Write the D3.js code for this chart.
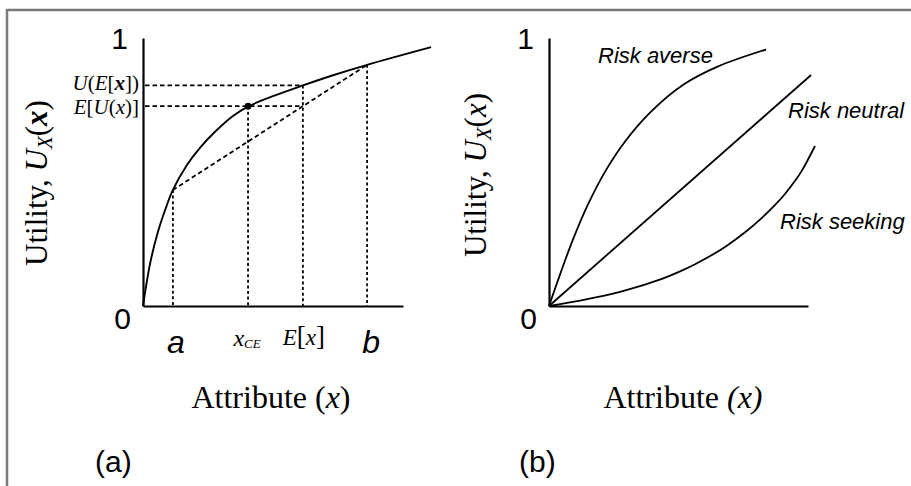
<!DOCTYPE html>
<html>
<head>
<meta charset="utf-8">
<script src="https://cdn.jsdelivr.net/npm/d3@7/dist/d3.min.js"></script>
<style>
  html, body { margin: 0; padding: 0; background: #fff; }
  svg { display: block; }
</style>
</head>
<body>
<svg id="fig" width="911" height="486"></svg>
<script>
// ---- Panel (a): concave utility curve with lottery construction ----
const utilX = [0, 0.027, 0.054, 0.085, 0.115, 0.169, 0.219, 0.277, 0.346, 0.404, 0.5, 0.615, 0.731, 0.862, 1.108];
const utilY = [0, 0.157, 0.265, 0.358, 0.433, 0.526, 0.590, 0.650, 0.709, 0.744, 0.783, 0.823, 0.861, 0.900, 0.966];
const lotteryA = 0.115, lotteryB = 0.862;   // outcomes a and b
const utilA = 0.433, utilB = 0.900;          // U(a), U(b)
const expectedX = 0.615;                     // E[x]
const utilOfExpected = 0.823;                // U(E[x])
const certaintyEq = 0.404;                   // x_CE
const yTicksA = [0, 1];

// ---- Panel (b): risk attitudes ----
const averseX = [0, 0.031, 0.062, 0.097, 0.151, 0.220, 0.293, 0.394, 0.521, 0.653, 0.838];
const averseY = [0, 0.086, 0.170, 0.259, 0.380, 0.507, 0.613, 0.725, 0.827, 0.894, 0.957];
const neutralX = [0, 1.012];
const neutralY = [0, 0.862];
const seekingX = [0, 0.120, 0.243, 0.351, 0.436, 0.506, 0.564, 0.629, 0.691, 0.757, 0.822, 0.873, 0.911, 0.950, 0.977, 1.027];
const seekingY = [0, 0.020, 0.045, 0.074, 0.101, 0.129, 0.156, 0.190, 0.228, 0.275, 0.329, 0.377, 0.418, 0.467, 0.506, 0.597];
const yTicksB = [0, 1];

const SERIF = "'Liberation Serif', 'Times New Roman', serif";
const SANS = "'Liberation Sans', Arial, sans-serif";

const svg = d3.select("#fig");

// frame
svg.append("path")
  .attr("d", "M7,486V10H911")
  .attr("fill", "none").attr("stroke", "#7a7a7a").attr("stroke-width", 2.5);

function zip(xs, ys) { return xs.map((x, i) => [x, ys[i]]); }

function panelAxes(g, x, y, ticks) {
  const yAxis = g.append("g")
    .attr("transform", `translate(${x(0)},0)`)
    .call(d3.axisLeft(y).tickValues(ticks).tickSize(0).tickPadding(12).tickFormat(d3.format("d")));
  yAxis.select(".domain").attr("stroke", "#000").attr("stroke-width", 2.2);
  yAxis.selectAll(".tick text")
    .attr("font-family", SANS).attr("font-size", 30).attr("fill", "#000")
    .attr("dx", d => d === 0 ? 0 : -3)
    .attr("dy", d => d === 0 ? "0.75em" : "0.35em");
  const xAxis = g.append("g")
    .attr("transform", `translate(0,${y(0)})`)
    .call(d3.axisBottom(x).tickValues([]).tickSize(0));
  xAxis.select(".domain").attr("stroke", "#000").attr("stroke-width", 2.2);
  return xAxis;
}

const smooth = d3.curveCatmullRom.alpha(0.5);

// ===== panel (a) =====
{
  const x = d3.scaleLinear().domain([0, 1]).range([143, 403]);
  const y = d3.scaleLinear().domain([0, 1]).range([306, 38]);
  const g = svg.append("g");

  const chordAt = t => utilA + (t - lotteryA) / (lotteryB - lotteryA) * (utilB - utilA);
  const expectedU = chordAt(expectedX);   // E[U(x)]

  const dashH = "4.5,3", dotV = "3,2.6";
  const guide = (d, dash) => g.append("path").attr("d", d).attr("fill", "none")
    .attr("stroke", "#000").attr("stroke-width", 1.8).attr("stroke-dasharray", dash);

  // horizontal guides to the utility axis
  guide(`M${x(0) + 2},${y(utilOfExpected)}H${x(expectedX)}`, dashH);
  guide(`M${x(0) + 2},${y(expectedU)}H${x(expectedX)}`, dashH);
  // chord between the two outcomes
  guide(d3.line()([[x(lotteryA), y(utilA)], [x(lotteryB), y(utilB)]]), dashH);
  // vertical drop lines
  [[lotteryA, utilA], [certaintyEq, expectedU], [expectedX, utilOfExpected], [lotteryB, utilB]]
    .forEach(([vx, vy]) => guide(`M${x(vx)},${y(vy)}V${y(0)}`, dotV));

  panelAxes(g, x, y, yTicksA);

  // utility curve
  g.append("path")
    .datum(zip(utilX, utilY))
    .attr("d", d3.line().x(d => x(d[0])).y(d => y(d[1])).curve(smooth))
    .attr("fill", "none").attr("stroke", "#000").attr("stroke-width", 1.9);

  g.append("circle").attr("cx", x(certaintyEq)).attr("cy", y(expectedU)).attr("r", 3.4).attr("fill", "#000");

  // value labels on the utility axis
  const ul = g.append("text").attr("x", 139).attr("y", y(utilOfExpected) + 4.5)
    .attr("text-anchor", "end").attr("font-family", SERIF).attr("font-size", 21);
  ul.append("tspan").attr("font-style", "italic").text("U");
  ul.append("tspan").text("(");
  ul.append("tspan").attr("font-style", "italic").text("E");
  ul.append("tspan").text("[");
  ul.append("tspan").attr("font-style", "italic").attr("font-weight", "bold").text("x");
  ul.append("tspan").text("])");

  const el = g.append("text").attr("x", 139).attr("y", y(expectedU) + 8)
    .attr("text-anchor", "end").attr("font-family", SERIF).attr("font-size", 21);
  el.append("tspan").attr("font-style", "italic").text("E");
  el.append("tspan").text("[");
  el.append("tspan").attr("font-style", "italic").text("U");
  el.append("tspan").text("(");
  el.append("tspan").attr("font-style", "italic").text("x");
  el.append("tspan").text(")");
  el.append("tspan").text("]");

  // outcome labels along the attribute axis
  const lab = (t, px) => g.append("text").attr("x", x(t) + px).attr("text-anchor", "middle");
  lab(lotteryA, 3).attr("y", 353).attr("font-family", SANS).attr("font-style", "italic")
    .attr("font-size", 32).text("a");
  lab(lotteryB, 4).attr("y", 353).attr("font-family", SANS).attr("font-style", "italic")
    .attr("font-size", 32).text("b");
  const ce = lab(certaintyEq, -1).attr("y", 346).attr("font-family", SERIF).attr("font-style", "italic");
  ce.append("tspan").attr("font-size", 24).text("x");
  ce.append("tspan").attr("font-size", 13).attr("dy", 2).text("CE");
  const ex = lab(expectedX, 1).attr("y", 345).attr("font-family", SERIF);
  ex.append("tspan").attr("font-style", "italic").attr("font-size", 23).text("E");
  ex.append("tspan").attr("font-size", 27).text("[");
  ex.append("tspan").attr("font-style", "italic").attr("font-size", 23).text("x");
  ex.append("tspan").attr("font-size", 27).text("]");

  // axis titles
  const xt = g.append("text").attr("x", 271).attr("y", 408).attr("text-anchor", "middle")
    .attr("font-family", SERIF).attr("font-size", 32);
  xt.append("tspan").text("Attribute (");
  xt.append("tspan").attr("font-style", "italic").text("x");
  xt.append("tspan").text(")");

  const yt = g.append("text").attr("transform", "translate(47,183) rotate(-90)")
    .attr("text-anchor", "middle").attr("font-family", SERIF).attr("font-size", 31);
  yt.append("tspan").text("Utility,  ");
  yt.append("tspan").attr("font-style", "italic").text("U");
  yt.append("tspan").attr("font-style", "italic").attr("font-size", 21).attr("dy", 5).text("X");
  yt.append("tspan").attr("dy", -5).text("(");
  yt.append("tspan").attr("font-style", "italic").attr("font-weight", "bold").text("x");
  yt.append("tspan").text(")");

  g.append("text").attr("x", 95).attr("y", 472).attr("font-family", SANS).attr("font-size", 30).text("(a)");
}

// ===== panel (b) =====
{
  const x = d3.scaleLinear().domain([0, 1]).range([549, 808]);
  const y = d3.scaleLinear().domain([0, 1]).range([306, 38]);
  const g = svg.append("g");

  panelAxes(g, x, y, yTicksB);

  const line = d3.line().x(d => x(d[0])).y(d => y(d[1])).curve(smooth);
  [zip(averseX, averseY), zip(neutralX, neutralY), zip(seekingX, seekingY)].forEach(pts => {
    g.append("path").datum(pts).attr("d", line)
      .attr("fill", "none").attr("stroke", "#000").attr("stroke-width", 1.8);
  });

  const tag = (tx, ty, s) => g.append("text").attr("x", tx).attr("y", ty)
    .attr("font-family", SANS).attr("font-style", "italic").attr("font-size", 22).text(s);
  tag(598, 63, "Risk averse");
  tag(788, 118, "Risk neutral");
  tag(780, 229, "Risk seeking");

  const xt = g.append("text").attr("x", 683).attr("y", 408).attr("text-anchor", "middle")
    .attr("font-family", SERIF).attr("font-size", 32);
  xt.append("tspan").text("Attribute ");
  xt.append("tspan").attr("font-style", "italic").text("(x)");

  const yt = g.append("text").attr("transform", "translate(486,175) rotate(-90)")
    .attr("text-anchor", "middle").attr("font-family", SERIF).attr("font-size", 31);
  yt.append("tspan").text("Utility,  ");
  yt.append("tspan").attr("font-style", "italic").text("U");
  yt.append("tspan").attr("font-style", "italic").attr("font-size", 21).attr("dy", 5).text("X");
  yt.append("tspan").attr("dy", -5).text("(");
  yt.append("tspan").attr("font-style", "italic").text("x");
  yt.append("tspan").text(")");

  g.append("text").attr("x", 519).attr("y", 472).attr("font-family", SANS).attr("font-size", 30).text("(b)");
}
</script>
</body>
</html>
